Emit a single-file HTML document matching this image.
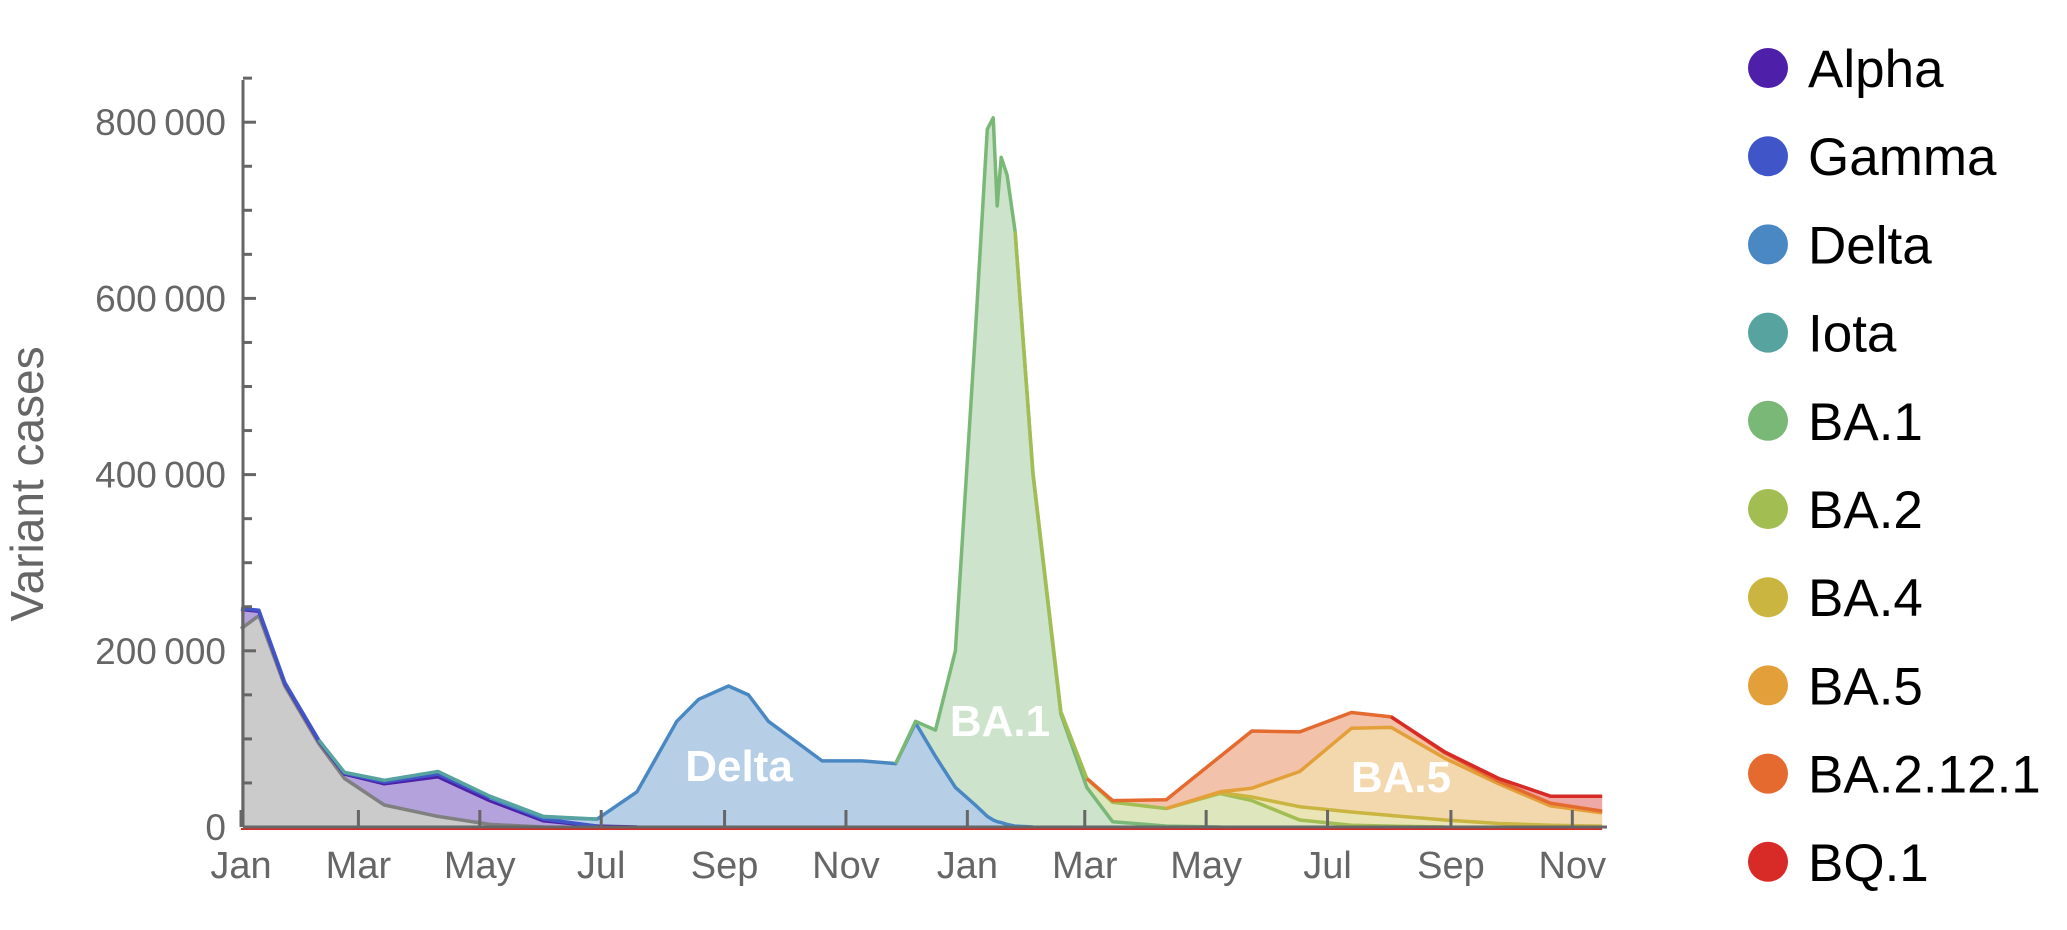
<!DOCTYPE html>
<html><head><meta charset="utf-8"><style>
html,body{margin:0;padding:0;background:#fff;}
svg{display:block;font-family:"Liberation Sans",sans-serif;}
</style></head><body>
<svg id="chart" width="2067" height="930" viewBox="0 0 2067 930">
<g id="fills"></g>
<g id="lines"></g>
<g id="axes"></g>
<g id="labels"></g>
<g id="legend"></g>
</svg>
<script>
const days = [0,9,22,39,52,72,99,125,152,179,199,219,230,245,255,265,292,312,329,339,349,359,369,375,378,380,382,385,389,398,412,425,438,465,492,508,532,558,578,605,632,658,684];
const other  = [225,240,160,95,55,25,12,3,0,0,0,0,0,0,0,0,0,0,0,0,0,0,0,0,0,0,0,0,0,0,0,0,0,0,0,0,0,0,0,0,0,0,0];
const alpha  = [22,5,3,3,5,24,45,27,7,1,0,0,0,0,0,0,0,0,0,0,0,0,0,0,0,0,0,0,0,0,0,0,0,0,0,0,0,0,0,0,0,0,0];
const gamma  = [1,1,1,1,1,2,3,3,2,0,0,0,0,0,0,0,0,0,0,0,0,0,0,0,0,0,0,0,0,0,0,0,0,0,0,0,0,0,0,0,0,0,0];
const delta  = [0,0,0,0,0,0,0,0,2,8,40,120,145,160,150,120,75,75,72,118,80,45,25,12,8,6,5,3,1,0,0,0,0,0,0,0,0,0,0,0,0,0,0];
const iota   = [0,0,0,0,1,2,3,2,1,0,0,0,0,0,0,0,0,0,0,0,0,0,0,0,0,0,0,0,0,0,0,0,0,0,0,0,0,0,0,0,0,0,0];
const ba1    = [0,0,0,0,0,0,0,0,0,0,0,0,0,0,0,0,0,0,0,2,30,155,535,780,797,699,755,737,675,400,128,45,6,1,0,0,0,0,0,0,0,0,0];
const ba2    = [0,0,0,0,0,0,0,0,0,0,0,0,0,0,0,0,0,0,0,0,0,0,0,0,0,0,0,0,0,2,3,10,22,20,38,30,8,2,1,0,0,0,0];
const ba4    = [0,0,0,0,0,0,0,0,0,0,0,0,0,0,0,0,0,0,0,0,0,0,0,0,0,0,0,0,0,0,0,0,0,0,1,4,15,15,12,8,4,2,1];
const ba5    = [0,0,0,0,0,0,0,0,0,0,0,0,0,0,0,0,0,0,0,0,0,0,0,0,0,0,0,0,0,0,0,0,0,0,1,10,40,95,100,70,45,22,15];
const ba2121 = [0,0,0,0,0,0,0,0,0,0,0,0,0,0,0,0,0,0,0,0,0,0,0,0,0,0,0,0,0,0,0,0,2,10,40,65,45,18,12,6,3,3,2];
const bq1    = [0,0,0,0,0,0,0,0,0,0,0,0,0,0,0,0,0,0,0,0,0,0,0,0,0,0,0,0,0,0,0,0,0,0,0,0,0,0,0,1,3,8,17];
const seriesNames = ["Other","Alpha","Gamma","Delta","Iota","BA.1","BA.2","BA.4","BA.5","BA.2.12.1","BQ.1"];
const yTicks = [0,200,400,600,800];
const yTickLabels = ["0","200\u2009000","400\u2009000","600\u2009000","800\u2009000"];
const monthDays = [0,59,120,181,243,304,365,424,485,546,608,669];
const monthLabels = ["Jan","Mar","May","Jul","Sep","Nov","Jan","Mar","May","Jul","Sep","Nov"];
const legendNames = ["Alpha","Gamma","Delta","Iota","BA.1","BA.2","BA.4","BA.5","BA.2.12.1","BQ.1"];

const seriesData = [other,alpha,gamma,delta,iota,ba1,ba2,ba4,ba5,ba2121,bq1];
const lineColors = ["#808080","#4e1fa8","#4055c8","#4a88c4","#57a3a0","#7ab878","#a2be52","#c9b540","#e3a03a","#e46a30","#d82a26"];
const fillColors = ["#cbcbcb","#b3a2dc","#a6b0e6","#b6cfe7","#b3d6d4","#cde3cc","#dde6bc","#ebe4b4","#f3d8ae","#f3c2ab","#eea8a6"];
const X0=241, PXD=1.99, Y0=827, PYK=0.881;
function xs(d){return X0+d*PXD;}
function ys(v){return Y0-v*PYK;}
const NS="http://www.w3.org/2000/svg";
function mk(tag,attrs,parent){const e=document.createElementNS(NS,tag);for(const k in attrs)e.setAttribute(k,attrs[k]);parent.appendChild(e);return e;}
const fills=document.getElementById('fills'), lines=document.getElementById('lines'), axes=document.getElementById('axes'), labels=document.getElementById('labels'), legend=document.getElementById('legend');

let base = days.map(()=>0);
const tops=[];
seriesData.forEach((s,i)=>{
  const top = base.map((b,j)=>b+s[j]);
  let d = "M"+days.map((dd,j)=>xs(dd).toFixed(1)+","+ys(top[j]).toFixed(1)).join(" L");
  for(let j=days.length-1;j>=0;j--) d+=" L"+xs(days[j]).toFixed(1)+","+ys(base[j]).toFixed(1);
  d+="Z";
  const p=mk('path',{d:d,fill:fillColors[i],stroke:'none'},fills);
  
  
  tops.push({top:top,s:s,i:i});
  base=top;
});
tops.forEach(o=>{
  const s=o.s, top=o.top;
  let segs=[], cur=null;
  for(let j=0;j<days.length;j++){
    const on = s[j]>0 || (j>0&&s[j-1]>0) || (j<days.length-1&&s[j+1]>0);
    if(on){ if(!cur){cur=[];segs.push(cur);} cur.push(xs(days[j]).toFixed(1)+","+ys(top[j]).toFixed(1)); }
    else cur=null;
  }
  segs.forEach(seg=>{
    if(seg.length<2) return;
    const l=mk('path',{d:"M"+seg.join(" L"),fill:'none',stroke:lineColors[o.i],'stroke-width':3.5,'stroke-linejoin':'round'},lines);
    
    
  });
});
const rb=mk('line',{x1:X0,y1:Y0+2,x2:xs(684),y2:Y0+2,stroke:'#d82a26','stroke-width':2},lines);



const ya=mk('line',{x1:X0+2,y1:80,x2:X0+2,y2:Y0,stroke:'#666','stroke-width':3},axes);


const xa=mk('line',{x1:X0+2,y1:Y0,x2:1607,y2:Y0,stroke:'#666','stroke-width':3},axes);


for(let v=0;v<=850;v+=50){
  const major = yTicks.indexOf(v)>=0;
  const t=mk('line',{x1:X0+2,y1:ys(v),x2:X0+2+(major?13:9),y2:ys(v),stroke:'#666','stroke-width':3},axes);
  
  
}
yTicks.forEach((v,i)=>{
  const t=mk('text',{x:226,y:ys(v)+13,'text-anchor':'end','font-size':37,fill:'#666'},axes);
  t.textContent=yTickLabels[i];
  
  
});
monthDays.forEach((d,i)=>{
  const tk=mk('line',{x1:xs(d),y1:Y0,x2:xs(d),y2:Y0-17,stroke:'#666','stroke-width':3},axes);
  
  
  const t=mk('text',{x:xs(d),y:878,'text-anchor':'middle','font-size':38,fill:'#666'},axes);
  t.textContent=monthLabels[i];
  
  
});
const yt=mk('text',{x:0,y:0,transform:'translate(43,484) rotate(-90)','text-anchor':'middle','font-size':46,fill:'#666'},axes);
yt.textContent='Variant cases';



[["Delta",739,781],["BA.1",1000,736],["BA.5",1401,792]].forEach(a=>{
  const t=mk('text',{x:a[1],y:a[2],'text-anchor':'middle','font-size':44,'font-weight':'bold',fill:'#fff'},labels);
  t.textContent=a[0];
  
  
});

legendNames.forEach((n,i)=>{
  const cy=68+i*88.2;
  const g=mk('g',{},legend);
  
  
  const c=mk('circle',{cx:1768,cy:cy,r:20,fill:lineColors[i+1]},g);
  
  
  const t=mk('text',{x:1808,y:cy+19,'font-size':53,fill:'#000'},g);
  t.textContent=n;
  
  
});
</script>
</body></html>
